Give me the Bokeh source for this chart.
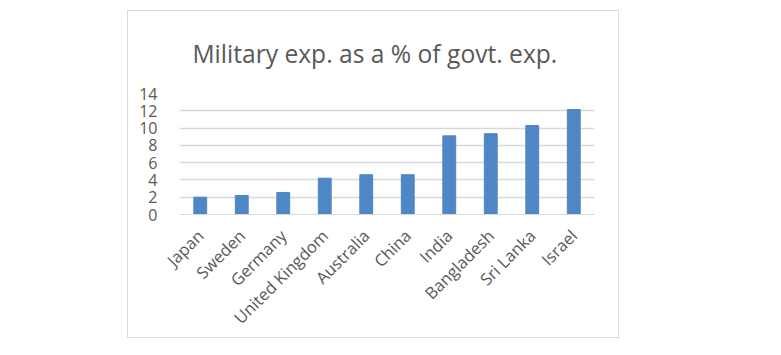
import math
from bokeh.plotting import figure
from bokeh.layouts import row, column
from bokeh.models import Spacer, FixedTicker, Range1d, Title
from bokeh.embed import file_html
from bokeh.resources import INLINE

countries = ["Japan", "Sweden", "Germany", "United Kingdom", "Australia",
             "China", "India", "Bangladesh", "Sri Lanka", "Israel"]
values = [2.0, 2.2, 2.55, 4.2, 4.6, 4.6, 9.1, 9.35, 10.3, 12.15]
y_ticks = [0, 2, 4, 6, 8, 10, 12, 14]

FONT = "Open Sans"
GREY = "#595959"

p = figure(x_range=countries, width=492, height=328, output_backend="svg",
           toolbar_location=None, tools="")
p.y_range = Range1d(0, 14)
p.min_border_left = 51
p.min_border_right = 26
p.min_border_top = 82
p.min_border_bottom = 125
p.outline_line_color = None
p.styles = {"border": "1px solid #d9d9d9", "box-sizing": "border-box"}

p.vbar(x=countries, top=values, width=0.31, color="#4f86c6")

p.title = Title(text="Military exp. as a % of govt. exp.", align="left",
                text_font=FONT, text_font_size="24.6px", text_font_style="normal",
                text_color=GREY, offset=13, standoff=47)

p.yaxis.ticker = FixedTicker(ticks=y_ticks)
p.yaxis.axis_line_color = None
p.yaxis.major_tick_line_color = None
p.yaxis.minor_tick_line_color = None
p.yaxis.major_label_standoff = 16
p.yaxis.major_label_text_font = FONT
p.yaxis.major_label_text_font_size = "16px"
p.yaxis.major_label_text_color = GREY

p.xaxis.axis_line_color = "#d9d9d9"
p.xaxis.major_tick_line_color = None
p.xaxis.minor_tick_line_color = None
p.xaxis.major_label_orientation = math.pi / 4
p.xaxis.major_label_standoff = 12
p.xaxis.major_label_text_font = FONT
p.xaxis.major_label_text_font_size = "16.5px"
p.xaxis.major_label_text_color = GREY

p.xgrid.grid_line_color = None
p.ygrid.grid_line_color = "#d9d9d9"
p.ygrid.grid_line_width = 1.5

layout = column(Spacer(height=10), row(Spacer(width=127), p))

open("out.html", "w").write(file_html(layout, INLINE))
